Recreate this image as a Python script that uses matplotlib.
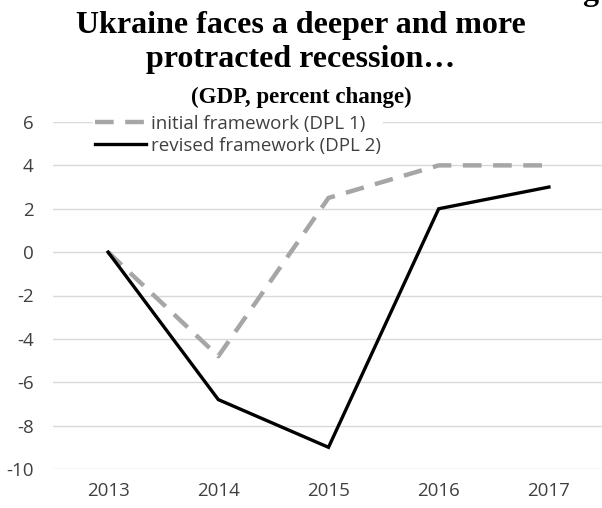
"""
Ukraine GDP growth: initial vs revised framework (DPL 1 / DPL 2)
"""

import numpy as np
from matplotlib import pyplot as plt

plt.rcParams["axes.unicode_minus"] = False

years = ["2013", "2014", "2015", "2016", "2017"]
initial_dpl1 = [0, -4.8, 2.5, 4, 4]
revised_dpl2 = [0, -6.8, -9, 2, 3]
y_ticks = [6, 4, 2, 0, -2, -4, -6, -8, -10]

W, H = 602, 508

fig = plt.figure(figsize=(W / 100, H / 100), dpi=100)
ax = fig.add_axes([53 / W, 1 - 469 / H, 551 / W, (469 - 122) / H])

x = np.arange(len(years))
ax.plot(x, revised_dpl2, color="black", lw=2.4, solid_joinstyle="miter",
        label="revised framework (DPL 2)", zorder=3)
ax.plot(x, initial_dpl1, color="#a6a6a6", lw=3.2, dashes=(4.2, 2.6),
        dash_capstyle="butt", label="initial framework (DPL 1)", zorder=2)

ax.set_xlim(-0.5, len(years) - 0.5)
ax.set_ylim(-10, 6)
ax.set_xticks(x)
ax.set_xticklabels(years)
ax.set_yticks(y_ticks)
for t in ax.get_xticklabels() + ax.get_yticklabels():
    t.set_fontfamily("Open Sans")
    t.set_fontsize(13.5)
    t.set_color("#404040")
ax.tick_params(length=0)
ax.tick_params(axis="y", pad=14)
ax.tick_params(axis="x", pad=9)
ax.grid(axis="y", color="#d9d9d9", lw=1)
ax.set_axisbelow(True)
for s in ax.spines.values():
    s.set_visible(False)

# legend: dashed first, white box over the top gridline
h, l = ax.get_legend_handles_labels()
leg = ax.legend(h[::-1], l[::-1], loc="upper left",
                bbox_to_anchor=(93 / W, 1 - 113 / H), bbox_transform=fig.transFigure,
                prop={"family": "Open Sans", "size": 13.5}, frameon=True,
                handlelength=2.75, handletextpad=0.25, labelspacing=0.22,
                borderpad=0.1, borderaxespad=0)
leg.get_frame().set_facecolor("white")
leg.get_frame().set_edgecolor("none")
leg.get_frame().set_alpha(1)
for t in leg.get_texts():
    t.set_color("#404040")

# titles
fig.text(0.5, 1 - 33 / H, "Ukraine faces a deeper and more", ha="center", va="baseline",
         family="Liberation Serif", weight="bold", size=23)
fig.text(0.5, 1 - 67 / H, "protracted recession\u2026", ha="center", va="baseline",
         family="Liberation Serif", weight="bold", size=23)
fig.text(0.5, 1 - 103 / H, "(GDP, percent change)", ha="center", va="baseline",
         family="Liberation Serif", weight="bold", size=16.5)
# cut-off text from above
fig.text(1 - 20 / W, 1.0, "g", ha="left", va="baseline",
         family="Liberation Serif", weight="bold", size=23)

fig.savefig("out.png", dpi=100)
